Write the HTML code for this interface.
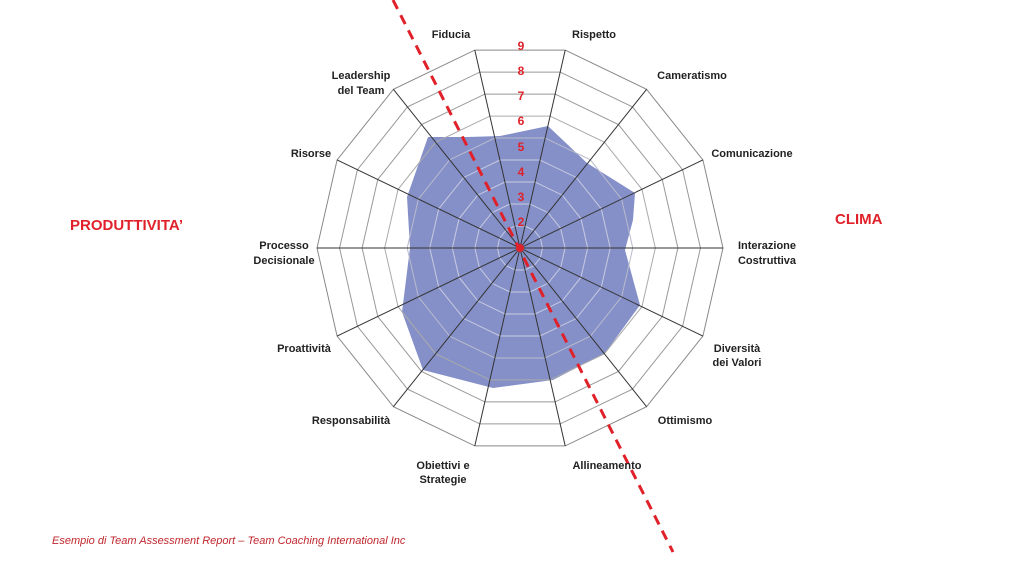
<!DOCTYPE html>
<html><head><meta charset="utf-8"><style>
html,body{margin:0;padding:0;background:#fff;width:1024px;height:565px;overflow:hidden}
svg text{font-family:"Liberation Sans",sans-serif}
</style></head><body>
<svg width="1024" height="565" viewBox="0 0 1024 565" xmlns="http://www.w3.org/2000/svg">
<defs>
<polygon id="g" points="22.25,-97.49 62.35,-78.18 90.10,-43.39 100,0 90.10,43.39 62.35,78.18 22.25,97.49 -22.25,97.49 -62.35,78.18 -90.10,43.39 -100,0 -90.10,-43.39 -62.35,-78.18 -22.25,-97.49" fill="none" vector-effect="non-scaling-stroke"/>
</defs>
<polygon points="428,137 468,137 500,136 548,126 587,163 635,193 633,220 625,250 640,305 605,353 553,380 493,388 423,370 402,312 410,248 407,197" fill="#8590c8"/>
<g transform="translate(520,248)" stroke-width="1">
<use href="#g" transform="scale(0.2256)" stroke="#c8cbe0"/>
<use href="#g" transform="scale(0.4511)" stroke="#c8cbe0"/>
<use href="#g" transform="scale(0.6767)" stroke="#c8cbe0"/>
<use href="#g" transform="scale(0.9022)" stroke="#c8cbe0"/>
<use href="#g" transform="scale(1.1278)" stroke="#b8bbcc"/>
<use href="#g" transform="scale(1.3533)" stroke="#aaa"/>
<use href="#g" transform="scale(1.5789)" stroke="#999"/>
<use href="#g" transform="scale(1.8044)" stroke="#999"/>
<use href="#g" transform="scale(2.03)" stroke="#888"/>
<g stroke="#333" stroke-width="1">
<line x1="45.2" y1="-197.9" x2="-45.2" y2="197.9"/>
<line x1="126.6" y1="-158.7" x2="-126.6" y2="158.7"/>
<line x1="182.9" y1="-88.1" x2="-182.9" y2="88.1"/>
<line x1="203" y1="0" x2="-203" y2="0"/>
<line x1="182.9" y1="88.1" x2="-182.9" y2="-88.1"/>
<line x1="126.6" y1="158.7" x2="-126.6" y2="-158.7"/>
<line x1="45.2" y1="197.9" x2="-45.2" y2="-197.9"/>
</g>
</g>
<line x1="393" y1="0" x2="673" y2="552" stroke="#e0212a" stroke-width="3" stroke-dasharray="10,7"/>
<circle cx="520" cy="248" r="4" fill="#e0212a"/>
<g fill="#e0212a" font-size="12" text-anchor="middle" font-weight="bold">
<text x="521" y="50">9</text><text x="521" y="75">8</text><text x="521" y="100">7</text><text x="521" y="125">6</text>
<text x="521" y="151">5</text><text x="521" y="176">4</text><text x="521" y="201">3</text><text x="521" y="226">2</text>
</g>
<g font-size="11" font-weight="bold" fill="#222" text-anchor="middle">
<text x="451" y="38">Fiducia</text>
<text x="594" y="38">Rispetto</text>
<text x="692" y="79">Cameratismo</text>
<text x="752" y="157">Comunicazione</text>
<text x="767" y="249">Interazione</text><text x="767" y="264">Costruttiva</text>
<text x="737" y="352">Diversità</text><text x="737" y="366">dei Valori</text>
<text x="685" y="424">Ottimismo</text>
<text x="607" y="469">Allineamento</text>
<text x="443" y="469">Obiettivi e</text><text x="443" y="483">Strategie</text>
<text x="351" y="424">Responsabilità</text>
<text x="304" y="352">Proattività</text>
<text x="284" y="249">Processo</text><text x="284" y="264">Decisionale</text>
<text x="311" y="157">Risorse</text>
<text x="361" y="79">Leadership</text><text x="361" y="94">del Team</text>
</g>
<text x="70" y="230" font-size="15" font-weight="bold" fill="#e0212a">PRODUTTIVITA’</text>
<text x="835" y="224" font-size="15" font-weight="bold" fill="#e0212a">CLIMA</text>
<text x="52" y="544" font-size="11" font-style="italic" fill="#c0272d">Esempio di Team Assessment Report – Team Coaching International Inc</text>
</svg>
</body></html>
